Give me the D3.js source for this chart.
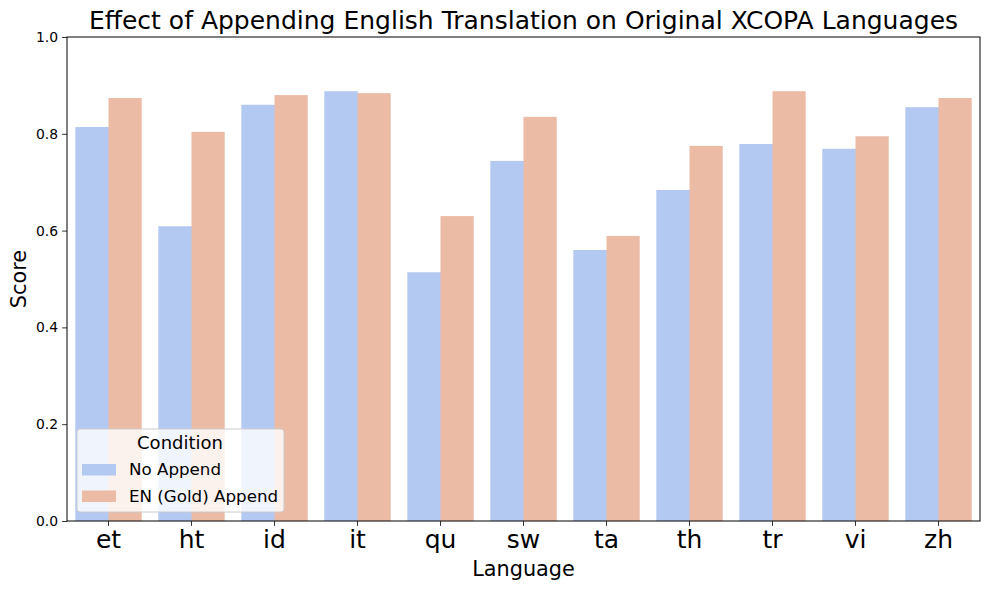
<!DOCTYPE html>
<html><head><meta charset="utf-8">
<script src="https://cdn.jsdelivr.net/npm/d3@7"></script>
<style>body{margin:0;background:#fff}svg{display:block;font-family:"DejaVu Sans",sans-serif}</style>
</head><body>
<svg id="c" width="989" height="590"></svg>
<script>
const languages = ["et","ht","id","it","qu","sw","ta","th","tr","vi","zh"];
const seriesNames = ["No Append","EN (Gold) Append"];
const noAppend = [0.814,0.609,0.860,0.888,0.514,0.744,0.560,0.684,0.779,0.769,0.855];
const enGoldAppend = [0.874,0.804,0.880,0.884,0.630,0.835,0.589,0.775,0.888,0.795,0.874];
const yTicks = [0.0,0.2,0.4,0.6,0.8,1.0];
const colors = ["#b4c9f2","#ebbba6"];

const svg = d3.select("#c");
const L=67,R=980,T=37,B=521;
const x = d3.scaleBand().domain(languages).range([L,R]).paddingInner(0.2).paddingOuter(0.1);
const xs = d3.scaleBand().domain(seriesNames).range([0,x.bandwidth()]);
const y = d3.scaleLinear().domain([0,1]).range([B,T]);
const series=[noAppend,enGoldAppend];

series.forEach((vals,si)=>{
  svg.append("g").selectAll("rect").data(languages).join("rect")
    .attr("x",d=>x(d)+xs(seriesNames[si]))
    .attr("width",xs.bandwidth()+(si===0?0.6:0))
    .attr("y",(d,i)=>y(vals[i]))
    .attr("height",(d,i)=>B-y(vals[i]))
    .attr("fill",colors[si]);
});

const xa = svg.append("g").attr("transform",`translate(0,${B})`)
  .call(d3.axisBottom(x).tickSize(4.9).tickPadding(4));
xa.select(".domain").remove();
xa.selectAll("text").attr("font-size",25).attr("fill","#000").attr("font-family","DejaVu Sans");
xa.selectAll("line").attr("stroke","#000").attr("stroke-width",0.8);

const ya = svg.append("g").attr("transform",`translate(${L},0)`)
  .call(d3.axisLeft(y).tickValues(yTicks).tickFormat(d3.format(".1f")).tickSize(4.9).tickPadding(4));
ya.select(".domain").remove();
ya.selectAll("text").attr("font-size",13.9).attr("fill","#000").attr("font-family","DejaVu Sans");
ya.selectAll("line").attr("stroke","#000").attr("stroke-width",0.8);

svg.append("rect").attr("x",L).attr("y",T).attr("width",R-L).attr("height",B-T)
  .attr("fill","none").attr("stroke","#000").attr("stroke-width",1);

svg.append("text").attr("x",(L+R)/2).attr("y",29).attr("text-anchor","middle")
  .attr("font-size",25).text("Effect of Appending English Translation on Original XCOPA Languages");
svg.append("text").attr("x",(L+R)/2).attr("y",576).attr("text-anchor","middle")
  .attr("font-size",20.8).text("Language");
svg.append("text").attr("transform",`translate(26,${(T+B)/2}) rotate(-90)`).attr("text-anchor","middle")
  .attr("font-size",20.8).text("Score");

// legend
const lg = svg.append("g");
lg.append("rect").attr("x",77).attr("y",429).attr("width",207).attr("height",83).attr("rx",3)
  .attr("fill","#fff").attr("fill-opacity",0.8).attr("stroke","#ccc").attr("stroke-width",1);
lg.append("text").attr("x",180).attr("y",449).attr("text-anchor","middle").attr("font-size",18).text("Condition");
seriesNames.forEach((n,i)=>{
  lg.append("rect").attr("x",82).attr("y",464+i*26.5).attr("width",34).attr("height",11.5).attr("fill",colors[i]);
  lg.append("text").attr("x",129).attr("y",475+i*26.5).attr("font-size",16.7).text(n);
});
</script>
</body></html>
